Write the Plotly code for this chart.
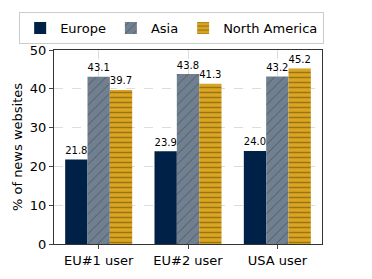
import plotly.graph_objects as go

categories = ["EU#1 user", "EU#2 user", "USA user"]
europe = [21.8, 23.9, 24.0]
asia = [43.1, 43.8, 43.2]
north_america = [39.7, 41.3, 45.2]
y_ticks = [0, 10, 20, 30, 40, 50]

font = "DejaVu Sans"
fig = go.Figure()
fig.add_trace(go.Bar(name="Europe", x=categories, y=europe, marker_color="#002147",
                     text=[f"{v:.1f}" for v in europe], textposition="outside", cliponaxis=False))
fig.add_trace(go.Bar(name="Asia", x=categories, y=asia,
                     marker=dict(color="#708090", pattern=dict(shape="/", fgcolor="#222222", bgcolor="#708090", size=7, solidity=0.12)),
                     text=[f"{v:.1f}" for v in asia], textposition="outside", cliponaxis=False))
fig.add_trace(go.Bar(name="North America", x=categories, y=north_america,
                     marker=dict(color="#DAA520", pattern=dict(shape="-", fgcolor="#5a4510", bgcolor="#DAA520", size=5, solidity=0.3)),
                     text=[f"{v:.1f}" for v in north_america], textposition="outside", cliponaxis=False))

fig.update_traces(textfont=dict(size=12, color="black", family=font), marker_line_width=0)
fig.update_layout(
    width=372, height=279,
    margin=dict(l=54, r=50, t=46, b=35),
    barmode="group", bargap=0.25, bargroupgap=0,
    plot_bgcolor="white", paper_bgcolor="white",
    font=dict(family=font, size=13, color="black"),
    legend=dict(orientation="h", x=-0.13, xanchor="left", y=1.195, yanchor="top",
                bordercolor="#cccccc", borderwidth=1, font=dict(size=13),
                itemwidth=30),
    xaxis=dict(showline=True, linecolor="#333", mirror=True, ticks="outside", ticklen=4,
               showgrid=True, gridcolor="#dddddd", griddash="dash", tickfont=dict(size=13)),
    yaxis=dict(range=[0, 50], tickvals=y_ticks, showline=True, linecolor="#333", mirror=True,
               ticks="outside", ticklen=4, showgrid=True, gridcolor="#dddddd", griddash="dash",
               title=dict(text="% of news websites", font=dict(size=13), standoff=4),
               tickfont=dict(size=13), zeroline=False),
)
fig.write_html("out.html", config={"displayModeBar": False},
               post_script="document.body.style.margin='0';")
